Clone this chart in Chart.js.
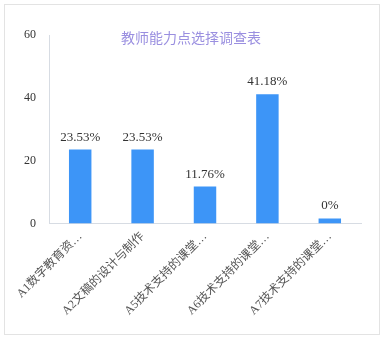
<!DOCTYPE html>
<html>
<head>
<meta charset="utf-8">
<script src="https://cdn.jsdelivr.net/npm/chart.js@4"></script>
<style>
  html, body { margin: 0; padding: 0; background: #fff; }
  #box {
    position: absolute; left: 4px; top: 4px;
    width: 374px; height: 329px;
    border: 1px solid #e3e3e3;
  }
</style>
</head>
<body>
<div id="box"><canvas id="chart"></canvas></div>
<script>
const categories = ['A1数字教育资…', 'A2文稿的设计与制作', 'A5技术支持的课堂…', 'A6技术支持的课堂…', 'A7技术支持的课堂…'];
const percents = [23.53, 23.53, 11.76, 41.18, 0];
const yTicks = [0, 20, 40, 60];
const chartTitle = '教师能力点选择调查表';

// value labels over each bar
const barLabels = {
    id: 'barLabels',
    afterDatasetsDraw(chart) {
        const ctx = chart.ctx;
        const meta = chart.getDatasetMeta(0);
        ctx.save();
        ctx.font = '13px "Liberation Serif", "Times New Roman", serif';
        ctx.fillStyle = '#333';
        ctx.textAlign = 'center';
        ctx.textBaseline = 'bottom';
        meta.data.forEach(function(bar, i) {
            ctx.fillText(percents[i] + '%', bar.x, bar.y - 6);
        });
        ctx.restore();
    }
};

// title sits inside the plot, centred on the canvas
const titleText = {
    id: 'titleText',
    afterDraw(chart) {
        const ctx = chart.ctx;
        ctx.save();
        ctx.font = '14px "Noto Sans CJK SC", sans-serif';
        ctx.fillStyle = '#9a8fe0';
        ctx.textAlign = 'center';
        ctx.textBaseline = 'middle';
        ctx.fillText(chartTitle, chart.width / 2 - 1, chart.chartArea.top + 3);
        ctx.restore();
    }
};

const ctx = document.getElementById('chart').getContext('2d');
new Chart(ctx, {
    type: 'bar',
    data: {
        labels: categories,
        datasets: [{
            data: percents,
            backgroundColor: '#3d95f7',
            categoryPercentage: 1,
            barPercentage: 0.36,
            minBarLength: 5
        }]
    },
    options: {
        responsive: true,
        maintainAspectRatio: false,
        animation: false,
        layout: { padding: { top: 30, right: 18, left: 6, bottom: 10 } },
        scales: {
            x: {
                grid: { display: false, drawTicks: false },
                border: { color: '#d7dce3' },
                ticks: {
                    color: '#555',
                    font: { size: 12, family: '"Liberation Serif", "Noto Sans CJK SC", serif' },
                    minRotation: 45,
                    maxRotation: 45,
                    padding: 6,
                    autoSkip: false
                }
            },
            y: {
                min: 0,
                max: 60,
                afterBuildTicks: function(axis) {
                    axis.ticks = yTicks.map(function(v) { return { value: v }; });
                },
                grid: { display: false, drawTicks: false },
                border: { color: '#d7dce3' },
                ticks: {
                    color: '#333',
                    font: { size: 12, family: '"Liberation Serif", "Times New Roman", serif' },
                    padding: 13
                }
            }
        },
        plugins: {
            legend: { display: false },
            tooltip: { enabled: false }
        }
    },
    plugins: [barLabels, titleText]
});
</script>
</body>
</html>
